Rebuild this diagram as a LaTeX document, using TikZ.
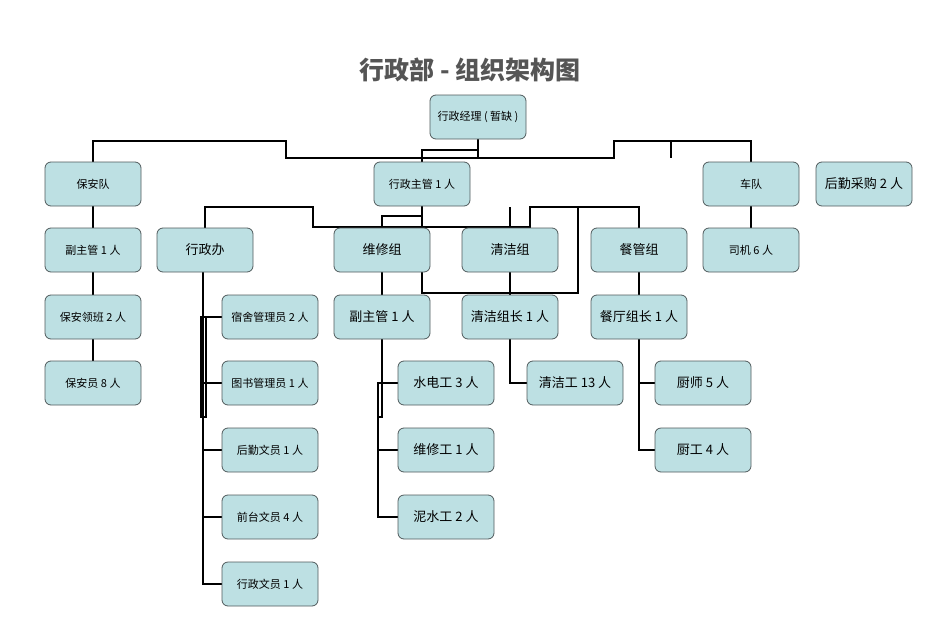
\documentclass[tikz,border=0pt]{standalone}
\usepackage{fontspec}
\newfontfamily\cjk{Noto Sans CJK SC}
\definecolor{boxfill}{HTML}{BDE0E3}
\definecolor{boxline}{HTML}{505A5C}
\definecolor{titlec}{HTML}{555555}
\begin{document}
\begin{tikzpicture}[x=1pt,y=-1pt,
  box/.style={draw=boxline,fill=boxfill,rounded corners=6pt,minimum width=96pt,minimum height=44pt,inner sep=1pt,font=\cjk\fontsize{11}{13}\selectfont,line width=0.8pt},
  big/.style={box,font=\cjk\fontsize{13}{15}\selectfont},
  con/.style={line width=2.4pt}]
\useasboundingbox (0,0) rectangle (950,634);
\node[font=\cjk\bfseries\fontsize{25}{28}\selectfont,text=titlec] (title) at (470,70) {行政部 - 组织架构图};
% level lines first
\draw[con] (478,139)--(478,158)--(286,158)--(286,141)--(93,141)--(93,162);
\draw[con] (478,158)--(614,158)--(614,141)--(751,141)--(751,162);
\draw[con] (671,141)--(671,158);
\draw[con] (478,150)--(422,150)--(422,162);
\draw[con] (422,206)--(422,227)--(313,227)--(313,207)--(205,207)--(205,228);
\draw[con] (422,227)--(530,227)--(530,207)--(639,207)--(639,228);
\draw[con] (422,216)--(382,216)--(382,228);
\draw[con] (510,207)--(510,228);
\draw[con] (578,207)--(578,293)--(422,293)--(422,272);
\draw[con] (382,272)--(382,295);
\draw[con] (510,272)--(510,295);
\draw[con] (639,272)--(639,295);
\draw[con] (93,206)--(93,362);
\draw[con] (751,206)--(751,228);
\draw[con] (203,272)--(203,584)--(222,584);
\foreach \yy in {317,383,450,517} \draw[con] (203,\yy)--(222,\yy);
\draw[line width=1.2pt] (201,317) rectangle (206,417);
\draw[con] (382,339)--(382,383)--(398,383);
\draw[con] (378,383)--(378,517)--(398,517);
\draw[con] (378,450)--(398,450);
\draw[line width=1.2pt] (378,383) rectangle (382,417);
\draw[con] (510,339)--(510,383)--(527,383);
\draw[con] (639,339)--(639,450)--(655,450);
\draw[con] (639,383)--(655,383);
% nodes
\node[box] (mgr) at (478,117) {行政经理 ( 暂缺 )};
\node[box] (ba) at (93,184) {保安队};
\node[box] (zg) at (422,184) {行政主管 1 人};
\node[box] (cd) at (751,184) {车队};
\node[big] (cg) at (864,184) {后勤采购 2 人};
\node[box] (fz1) at (93,250) {副主管 1 人};
\node[big] (xzb) at (205,250) {行政办};
\node[big] (wx) at (382,250) {维修组};
\node[big] (qj) at (510,250) {清洁组};
\node[big] (cg2) at (639,250) {餐管组};
\node[box] (sj) at (751,250) {司机 6 人};
\node[box] (lb) at (93,317) {保安领班 2 人};
\node[box] (ss) at (270,317) {宿舍管理员 2 人};
\node[big] (fz2) at (382,317) {副主管 1 人};
\node[big] (qjz) at (510,317) {清洁组长 1 人};
\node[big] (ctz) at (639,317) {餐厅组长 1 人};
\node[box] (bay) at (93,383) {保安员 8 人};
\node[box] (ts) at (270,383) {图书管理员 1 人};
\node[big] (sd) at (446,383) {水电工 3 人};
\node[big] (qjg) at (575,383) {清洁工 13 人};
\node[big] (cs) at (703,383) {厨师 5 人};
\node[box] (hq) at (270,450) {后勤文员 1 人};
\node[big] (wxg) at (446,450) {维修工 1 人};
\node[big] (cgg) at (703,450) {厨工 4 人};
\node[box] (qt) at (270,517) {前台文员 4 人};
\node[big] (ns) at (446,517) {泥水工 2 人};
\node[box] (xzwy) at (270,584) {行政文员 1 人};
\end{tikzpicture}
\end{document}
